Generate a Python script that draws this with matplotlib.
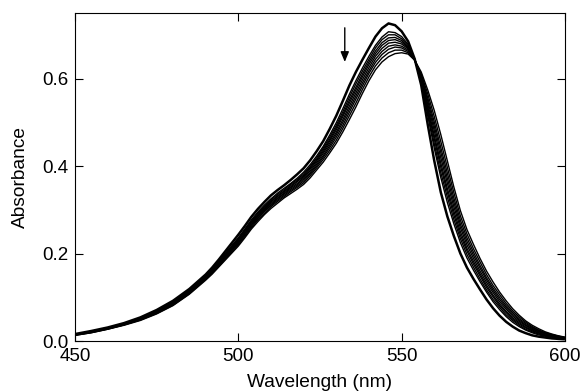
import matplotlib
matplotlib.use("Agg")
import matplotlib.pyplot as plt

# Wavelength sampling (nm)
wavelength = [450, 455, 460, 465, 470, 475, 480, 485,
              490, 492, 494, 496, 498, 500, 502, 504, 506, 508,
              510, 512, 514, 516, 518, 520, 522, 524, 526, 528,
              530, 532, 534, 536, 538, 540, 542, 544, 546, 548,
              550, 552, 554, 556, 558, 560, 562, 564, 566, 568,
              570, 572, 574, 576, 578, 580, 582, 584, 586, 588,
              590, 592, 594, 596, 598, 600]

# Absorbance spectra (first = initial spectrum, last = final spectrum)
spec0 = [0.016, 0.023, 0.031, 0.041, 0.054, 0.071, 0.092, 0.119,
         0.152, 0.168, 0.186, 0.205, 0.224, 0.243, 0.263, 0.284, 0.302, 0.318,
         0.333, 0.345, 0.356, 0.368, 0.381, 0.395, 0.413, 0.434, 0.457, 0.485,
         0.515, 0.549, 0.584, 0.615, 0.643, 0.670, 0.696, 0.715, 0.726, 0.722,
         0.708, 0.685, 0.645, 0.585, 0.495, 0.412, 0.340, 0.285, 0.240, 0.200,
         0.168, 0.142, 0.118, 0.095, 0.075, 0.058, 0.044, 0.033, 0.024, 0.018,
         0.013, 0.010, 0.008, 0.006, 0.005, 0.004]
spec1 = [0.015, 0.022, 0.030, 0.040, 0.052, 0.069, 0.089, 0.116,
         0.149, 0.164, 0.182, 0.200, 0.218, 0.236, 0.256, 0.277, 0.295, 0.311,
         0.325, 0.338, 0.349, 0.360, 0.372, 0.386, 0.403, 0.423, 0.445, 0.471,
         0.499, 0.531, 0.564, 0.595, 0.624, 0.651, 0.676, 0.695, 0.707, 0.705,
         0.696, 0.678, 0.644, 0.593, 0.515, 0.441, 0.374, 0.317, 0.268, 0.225,
         0.190, 0.162, 0.136, 0.112, 0.090, 0.072, 0.056, 0.043, 0.033, 0.025,
         0.019, 0.014, 0.011, 0.009, 0.007, 0.005]
spec2 = [0.015, 0.022, 0.030, 0.039, 0.052, 0.068, 0.088, 0.115,
         0.148, 0.163, 0.180, 0.198, 0.216, 0.234, 0.254, 0.274, 0.292, 0.308,
         0.323, 0.335, 0.346, 0.358, 0.369, 0.382, 0.399, 0.419, 0.441, 0.466,
         0.493, 0.524, 0.557, 0.588, 0.617, 0.644, 0.670, 0.689, 0.700, 0.700,
         0.691, 0.675, 0.644, 0.595, 0.522, 0.451, 0.385, 0.329, 0.278, 0.234,
         0.198, 0.169, 0.142, 0.117, 0.095, 0.077, 0.060, 0.047, 0.036, 0.027,
         0.021, 0.016, 0.012, 0.010, 0.008, 0.006]
spec3 = [0.015, 0.021, 0.029, 0.039, 0.051, 0.067, 0.087, 0.114,
         0.146, 0.161, 0.179, 0.197, 0.214, 0.232, 0.252, 0.272, 0.289, 0.306,
         0.320, 0.332, 0.343, 0.355, 0.366, 0.379, 0.396, 0.415, 0.437, 0.461,
         0.488, 0.518, 0.550, 0.580, 0.610, 0.638, 0.663, 0.682, 0.693, 0.694,
         0.687, 0.672, 0.644, 0.598, 0.529, 0.462, 0.397, 0.340, 0.288, 0.242,
         0.206, 0.176, 0.149, 0.123, 0.101, 0.081, 0.065, 0.050, 0.039, 0.030,
         0.023, 0.018, 0.013, 0.010, 0.008, 0.006]
spec4 = [0.014, 0.021, 0.029, 0.038, 0.050, 0.066, 0.086, 0.113,
         0.145, 0.160, 0.177, 0.195, 0.212, 0.230, 0.250, 0.270, 0.287, 0.303,
         0.318, 0.330, 0.341, 0.352, 0.364, 0.376, 0.393, 0.412, 0.433, 0.457,
         0.483, 0.513, 0.544, 0.574, 0.604, 0.632, 0.657, 0.676, 0.687, 0.689,
         0.683, 0.670, 0.643, 0.600, 0.535, 0.470, 0.407, 0.349, 0.297, 0.250,
         0.212, 0.182, 0.154, 0.128, 0.105, 0.085, 0.068, 0.053, 0.042, 0.032,
         0.025, 0.019, 0.014, 0.011, 0.009, 0.007]
spec5 = [0.014, 0.021, 0.029, 0.038, 0.050, 0.066, 0.085, 0.112,
         0.144, 0.159, 0.176, 0.193, 0.210, 0.227, 0.247, 0.267, 0.285, 0.301,
         0.315, 0.327, 0.338, 0.350, 0.360, 0.373, 0.389, 0.408, 0.429, 0.452,
         0.477, 0.506, 0.537, 0.567, 0.597, 0.625, 0.651, 0.669, 0.681, 0.683,
         0.679, 0.668, 0.643, 0.603, 0.542, 0.481, 0.419, 0.361, 0.307, 0.259,
         0.220, 0.189, 0.160, 0.134, 0.111, 0.090, 0.073, 0.057, 0.045, 0.035,
         0.027, 0.021, 0.016, 0.012, 0.009, 0.007]
spec6 = [0.014, 0.020, 0.028, 0.038, 0.049, 0.065, 0.084, 0.111,
         0.143, 0.158, 0.174, 0.191, 0.208, 0.225, 0.245, 0.265, 0.282, 0.298,
         0.312, 0.325, 0.336, 0.347, 0.357, 0.370, 0.385, 0.404, 0.424, 0.447,
         0.472, 0.500, 0.530, 0.560, 0.590, 0.618, 0.644, 0.662, 0.674, 0.677,
         0.674, 0.665, 0.643, 0.606, 0.549, 0.491, 0.431, 0.372, 0.317, 0.267,
         0.228, 0.196, 0.167, 0.140, 0.116, 0.095, 0.077, 0.061, 0.048, 0.037,
         0.029, 0.022, 0.017, 0.013, 0.010, 0.007]
spec7 = [0.014, 0.020, 0.028, 0.037, 0.049, 0.064, 0.083, 0.110,
         0.142, 0.156, 0.172, 0.190, 0.206, 0.223, 0.242, 0.262, 0.280, 0.296,
         0.310, 0.322, 0.333, 0.344, 0.354, 0.366, 0.382, 0.400, 0.420, 0.442,
         0.466, 0.493, 0.523, 0.553, 0.583, 0.612, 0.637, 0.655, 0.667, 0.672,
         0.670, 0.662, 0.643, 0.608, 0.556, 0.501, 0.442, 0.384, 0.327, 0.276,
         0.236, 0.203, 0.173, 0.145, 0.121, 0.100, 0.081, 0.065, 0.051, 0.040,
         0.031, 0.024, 0.018, 0.014, 0.011, 0.008]
spec8 = [0.013, 0.019, 0.027, 0.037, 0.048, 0.063, 0.082, 0.108,
         0.141, 0.155, 0.171, 0.187, 0.203, 0.220, 0.239, 0.259, 0.277, 0.292,
         0.307, 0.319, 0.330, 0.341, 0.351, 0.362, 0.378, 0.396, 0.415, 0.436,
         0.459, 0.486, 0.515, 0.544, 0.575, 0.604, 0.629, 0.647, 0.659, 0.665,
         0.665, 0.659, 0.642, 0.611, 0.565, 0.513, 0.456, 0.397, 0.339, 0.286,
         0.245, 0.211, 0.181, 0.152, 0.127, 0.106, 0.086, 0.069, 0.055, 0.043,
         0.033, 0.025, 0.019, 0.015, 0.011, 0.008]
spec9 = [0.013, 0.019, 0.027, 0.036, 0.047, 0.062, 0.081, 0.107,
         0.139, 0.153, 0.169, 0.185, 0.201, 0.217, 0.236, 0.256, 0.273, 0.289,
         0.303, 0.315, 0.327, 0.337, 0.347, 0.358, 0.373, 0.391, 0.409, 0.430,
         0.452, 0.478, 0.506, 0.535, 0.566, 0.595, 0.620, 0.638, 0.650, 0.657,
         0.659, 0.656, 0.642, 0.615, 0.574, 0.527, 0.472, 0.412, 0.352, 0.298,
         0.255, 0.221, 0.189, 0.160, 0.135, 0.112, 0.092, 0.074, 0.059, 0.046,
         0.036, 0.028, 0.021, 0.016, 0.012, 0.009]

spectra = [spec0, spec1, spec2, spec3, spec4, spec5, spec6, spec7, spec8, spec9]

x_ticks = [450, 500, 550, 600]
y_ticks = [0.0, 0.2, 0.4, 0.6]
y_tick_labels = ['0.0', '0.2', '0.4', '0.6']

# arrow annotation (data units)
arrow_x = 532.6
arrow_from = 0.716
arrow_to = 0.638

plt.rcParams['font.family'] = ['Liberation Sans', 'DejaVu Sans']
fig = plt.figure(figsize=(5.86, 3.92), dpi=100)
ax = fig.add_axes([0.128, 0.130, 0.836, 0.837])
for i, s in enumerate(spectra):
    ax.plot(wavelength, s, color='black', lw=1.8 if i == 0 else 1.0,
            solid_capstyle='butt', solid_joinstyle='round')

ax.set_xlim(450, 600)
ax.set_ylim(0, 0.75)
ax.set_xticks(x_ticks)
ax.set_yticks(y_ticks)
ax.set_yticklabels(y_tick_labels)
ax.tick_params(direction='in', length=6, width=0.8, labelsize=13.5,
               top=True, right=True, pad=5)
for sp in ax.spines.values():
    sp.set_linewidth(0.8)
ax.set_xlabel('Wavelength (nm)', fontsize=13.8, labelpad=6.5)
ax.set_ylabel('Absorbance', fontsize=13.8, labelpad=9)
ax.annotate('', xy=(arrow_x, arrow_to), xytext=(arrow_x, arrow_from),
            arrowprops=dict(arrowstyle='-|>,head_width=0.25,head_length=0.6',
                            color='black', lw=1.0, shrinkA=0, shrinkB=0))
fig.savefig("out.png")
